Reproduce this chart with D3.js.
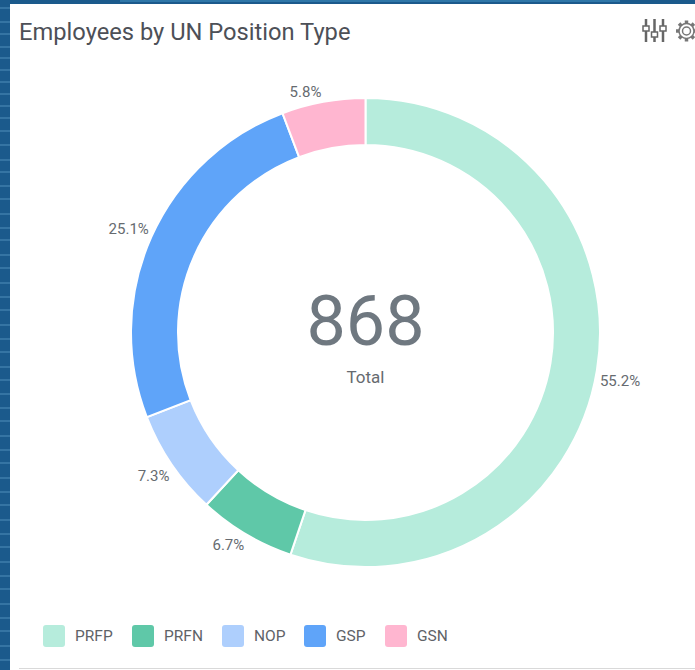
<!DOCTYPE html>
<html lang="en">
<head>
    <meta charset="UTF-8">
    <title>Employees by UN Position Type</title>
    <script src="https://d3js.org/d3.v7.min.js"></script>
    <style>
    html, body { margin: 0; padding: 0; background: #1b5a8c; }
    svg { display: block; }
    text { font-family: Roboto, sans-serif; }
    </style>
</head>
<body>
    <svg id="chart" width="695" height="670"></svg>
    <script>
        const categories = ["PRFP", "PRFN", "NOP", "GSP", "GSN"];
        const counts = [479, 58, 63, 218, 50];
        const percentLabels = ["55.2%", "6.7%", "7.3%", "25.1%", "5.8%"];
        const colors = ["#b6ecdc", "#5fc8a8", "#aecffd", "#5fa4f9", "#ffb6d0"];
        const stripeRows = [8, 22, 34, 47, 58, 70, 82, 94, 106, 118, 131, 145, 160, 172, 186, 199, 214, 228, 240, 255, 268, 283, 297, 310, 325, 339, 352, 367, 380, 394, 408, 421, 436, 450, 463, 478, 492, 505, 520, 534, 547, 562, 576, 589, 604, 618, 631, 646, 660];

        const svg = d3.select("#chart");
        const width = +svg.attr("width");
        const height = +svg.attr("height");

        // page behind the card
        svg.append("rect").attr("width", width).attr("height", height).attr("fill", "#1b5a8c");
        svg.selectAll("line.stripe").data(stripeRows)
            .join("line")
            .attr("class", "stripe")
            .attr("x1", 0).attr("x2", 10)
            .attr("y1", d => d).attr("y2", d => d)
            .attr("stroke", "#4f8dba")
            .attr("stroke-width", 1.5)
            .attr("opacity", 0.7);
        svg.append("rect").attr("x", 120).attr("y", 0).attr("width", 500).attr("height", 2)
            .attr("fill", "#2f77a8");

        // card
        svg.append("rect").attr("x", 10).attr("y", 4).attr("width", width - 10).attr("height", height - 4)
            .attr("fill", "#fff");
        svg.append("line").attr("x1", 19).attr("x2", width).attr("y1", 668.5).attr("y2", 668.5)
            .attr("stroke", "#d9d9d9");

        svg.append("text").attr("x", 19).attr("y", 40)
            .attr("font-size", 23.7).attr("fill", "#4d5057")
            .text("Employees by UN Position Type");

        // donut
        const cx = 365.5, cy = 332.5, outer = 234.5, inner = 187.5;
        const donut = svg.append("g").attr("transform", `translate(${cx},${cy})`);
        const pie = d3.pie().sort(null).value(d => d)(counts);
        const arc = d3.arc().innerRadius(inner).outerRadius(outer);

        donut.selectAll("path").data(pie)
            .join("path")
            .attr("d", arc)
            .attr("fill", (d, i) => colors[i])
            .attr("stroke", "#fff")
            .attr("stroke-width", 2);

        // percent labels sit just outside the ring, with small nudges like the original
        const midAngle = d => (d.startAngle + d.endAngle) / 2;
        const labelNudge = [[3, 8], [1, -2], [2, 3], [2, -2], [-1, 5]];
        donut.selectAll("text.pct").data(pie)
            .join("text")
            .attr("class", "pct")
            .attr("x", (d, i) => Math.sin(midAngle(d)) * (outer + (Math.sin(midAngle(d)) > 0 ? 0 : 5)) + labelNudge[i][0])
            .attr("y", (d, i) => -Math.cos(midAngle(d)) * (outer + 15) + 5 + labelNudge[i][1])
            .attr("text-anchor", d => Math.sin(midAngle(d)) > 0 ? "start" : "end")
            .attr("font-size", 15).attr("fill", "#666b70")
            .text((d, i) => percentLabels[i]);

        donut.append("text").attr("text-anchor", "middle").attr("y", 12)
            .attr("font-size", 70).attr("fill", "#6f7880")
            .text(d3.sum(counts));
        donut.append("text").attr("text-anchor", "middle").attr("y", 50)
            .attr("font-size", 17).attr("fill", "#666b70")
            .text("Total");

        // legend
        const legendX = d3.scaleOrdinal().domain(categories).range([43, 132, 222, 304, 385]);
        const legend = svg.selectAll("g.legend").data(categories)
            .join("g")
            .attr("class", "legend")
            .attr("transform", d => `translate(${legendX(d)},625)`);
        legend.append("rect")
            .attr("width", 22).attr("height", 22).attr("rx", 3)
            .attr("fill", (d, i) => colors[i]);
        legend.append("text")
            .attr("x", 32).attr("y", 16)
            .attr("font-size", 15.5).attr("fill", "#5f6368")
            .text(d => d);

        // toolbar icons
        const sliders = svg.append("g").attr("stroke", "#666").attr("fill", "#666");
        d3.range(3).forEach(i => {
            const x = 646 + i * 8.5;
            const knob = [26, 32, 26][i];
            sliders.append("line").attr("x1", x).attr("x2", x).attr("y1", 19).attr("y2", 42).attr("stroke-width", 2.5);
            sliders.append("rect").attr("x", x - 3).attr("y", knob).attr("width", 6).attr("height", 5)
                .attr("fill", "#fff").attr("stroke-width", 1.5);
        });
        const gear = svg.append("g").attr("transform", "translate(686.5,31)").attr("fill", "none").attr("stroke", "#777").attr("stroke-width", 1.5);
        gear.append("circle").attr("r", 4);
        gear.append("circle").attr("r", 7.5);
        gear.selectAll("line").data(d3.range(8))
            .join("line")
            .attr("y1", -7.5).attr("y2", -10.5).attr("stroke-width", 3.5)
            .attr("transform", d => `rotate(${d * 45})`);
    </script>
</body>
</html>
